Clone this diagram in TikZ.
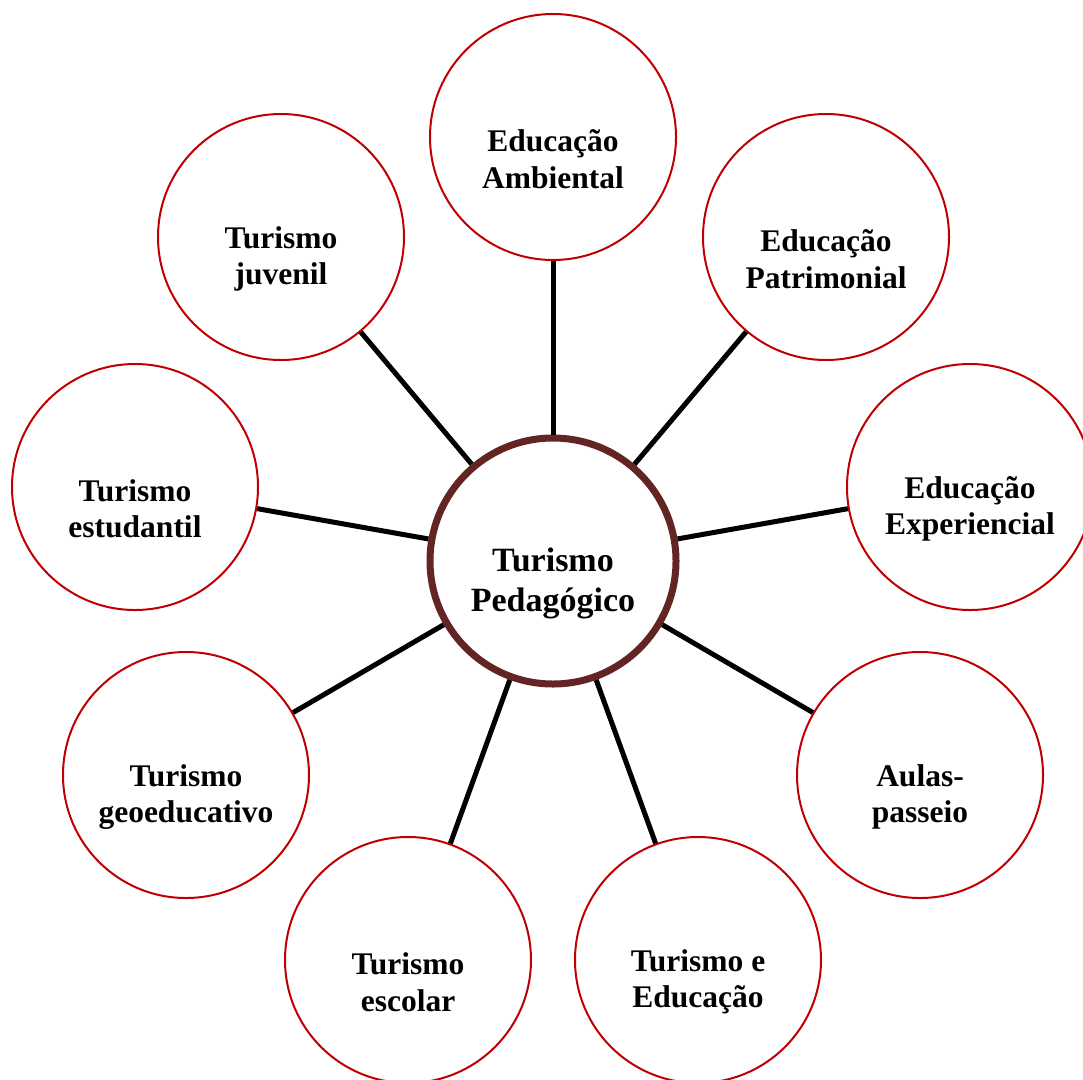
\documentclass[tikz,border=0pt]{standalone}
\usepackage{fontspec}
\setmainfont{Liberation Serif}
\definecolor{outred}{RGB}{192,0,0}
\definecolor{hubbrown}{RGB}{99,37,35}
\tikzset{
  outer/.style={circle, draw=outred, line width=2pt, fill=white, minimum size=246pt, inner sep=0pt},
  hub/.style={circle, draw=hubbrown, line width=7pt, fill=white, minimum size=246pt, inner sep=0pt},
  otext/.style={align=center, font=\bfseries\fontsize{31.5}{36.5}\selectfont, inner sep=0pt},
  htext/.style={align=center, font=\bfseries\fontsize{34}{40}\selectfont, inner sep=0pt},
  conn/.style={line width=5pt, draw=black}
}
\begin{document}
\begin{tikzpicture}[x=1pt,y=-1pt]
\useasboundingbox[fill=white] (0,0) rectangle (1083,1079);
% circles
\node[hub] (c) at (553,561) {};
\node[outer] (amb) at (553,137) {};
\node[outer] (juv) at (281,237) {};
\node[outer] (pat) at (826,237) {};
\node[outer] (est) at (135,487) {};
\node[outer] (exp) at (970,487) {};
\node[outer] (geo) at (186,775) {};
\node[outer] (aul) at (920,775) {};
\node[outer] (esc) at (408,960) {};
\node[outer] (tue) at (698,960) {};
% connectors
\foreach \n in {amb,juv,pat,est,exp,geo,aul,esc,tue}{
  \draw[conn] (c) -- (\n);
}
% texts
\node[htext] (tc) at (553,583) {Turismo\\Pedagógico};
\node[otext] (tamb) at (553,159) {Educação\\Ambiental};
\node[otext] (tjuv) at (281,259) {Turismo\\juvenil};
\node[otext] (tpat) at (826,259) {Educação\\Patrimonial};
\node[otext] (test) at (135,509) {Turismo\\estudantil};
\node[otext] (texp) at (970,509) {Educação\\Experiencial};
\node[otext] (tgeo) at (186,797) {Turismo\\geoeducativo};
\node[otext] (taul) at (920,797) {Aulas-\\passeio};
\node[otext] (tesc) at (408,982) {Turismo\\escolar};
\node[otext] (ttue) at (698,982) {Turismo e\\Educação};
\end{tikzpicture}
\end{document}
